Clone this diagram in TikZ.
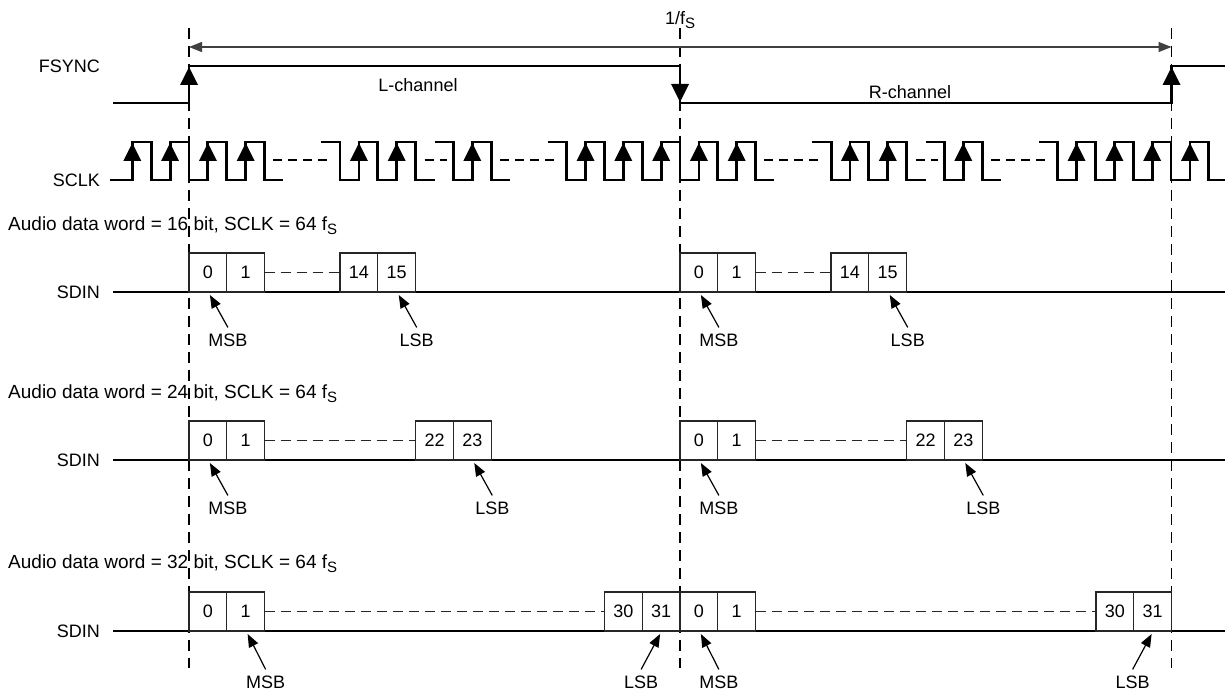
\documentclass[tikz,border=0pt]{standalone}
\usepackage{fontspec}
\setmainfont{Liberation Sans}
\usetikzlibrary{arrows.meta,calc}
\newcommand\fsub{f\raisebox{-4pt}{\fontsize{15}{15}\selectfont S}}
\def\hu{18.885}
\def\pw{37.77}
\newcommand\sclkgrp[3]{%
  \draw[sig] ({189+#1*\hu},142) -- ({189+(#1+1)*\hu},142) -- ({189+(#1+1)*\hu},180)
    foreach \hx in {#2} { -- ({189+\hx*\hu},180) -- ({189+\hx*\hu},142) -- ({189+(\hx+1)*\hu},142) -- ({189+(\hx+1)*\hu},180) } -- (#3,180);
  \foreach \hx in {#2} {\fill ({189+\hx*\hu},143) -- ++(-9,18) -- ++(18,0) -- cycle;}
}
\newcommand\gapdash[2]{\draw[hdash] ({189+#1*\hu-10},160) -- ({189+#2*\hu+12},160);}
\begin{document}
\begin{tikzpicture}[x=1pt,y=-1pt,
  sig/.style={line width=2.8pt, line join=miter},
  vdash/.style={line width=1.2pt, dash pattern=on 11pt off 7pt},
  hdash/.style={line width=1.2pt, dash pattern=on 9pt off 6pt},
  bit/.style={draw=black!85, line width=1.2pt, minimum width=37.77pt, minimum height=39pt,
    inner sep=0pt, outer sep=0pt, anchor=south west, font=\fontsize{18}{18}\selectfont},
  lbl/.style={font=\fontsize{18}{18}\selectfont, inner sep=1pt},
  rowlbl/.style={font=\fontsize{19}{19}\selectfont, inner sep=0pt, anchor=base west},
  ptr/.style={line width=1.2pt, -{Triangle[length=13pt,width=10pt]}},
  dim/.style={line width=1.2pt, draw=black!75, {Triangle[length=13pt,width=10pt]}-{Triangle[length=13pt,width=10pt]}},
  bitdash/.style={line width=1.2pt, draw=black!85, dash pattern=on 10pt off 6pt},
]
\useasboundingbox (0,0) rectangle (1225,692);

% vertical dashed reference lines
\coordinate (vLt) at (189,28);    \coordinate (vLb) at (189,668);
\coordinate (vMt) at (680,28);    \coordinate (vMb) at (680,668);
\coordinate (vRt) at (1171.5,28); \coordinate (vRb) at (1171.5,668);
\draw[vdash] (vLt) -- (vLb);
\draw[vdash] (vMt) -- (vMb);
\draw[vdash] (vRt) -- (vRb);

% period dimension
\coordinate (dL) at (189,47); \coordinate (dR) at (1171.5,47);
\draw[dim] (dL) -- (dR);
\node[lbl] (per) at (680,20) {1/\fsub};

% FSYNC
\node[lbl,anchor=east] (fsync) at (101,66) {FSYNC};
\draw[sig] (113,103) -- (189,103) -- (189,66) -- (680,66) -- (680,103) -- (1171.5,103) -- (1171.5,66) -- (1225,66);
\fill (189,67) -- ++(-9,18) -- ++(18,0) -- cycle;
\fill (680,102) -- ++(-9,-18) -- ++(18,0) -- cycle;
\fill (1171.5,67) -- ++(-9,18) -- ++(18,0) -- cycle;
\node[lbl] (lch) at (418,85) {L-channel};
\node[lbl] (rch) at (910,92) {R-channel};

% SCLK
\node[lbl,anchor=east] (sclk) at (101,180) {SCLK};
\draw[sig] (110,180) foreach \hx in {-3,-1,1,3} { -- ({189+\hx*\hu},180) -- ({189+\hx*\hu},142) -- ({189+(\hx+1)*\hu},142) -- ({189+(\hx+1)*\hu},180) } -- ({189+5*\hu},180);
\foreach \hx in {-3,-1,1,3} {\fill ({189+\hx*\hu},143) -- ++(-9,18) -- ++(18,0) -- cycle;}
\sclkgrp{7}{9,11}{434.5}
\sclkgrp{13}{15}{510}
\sclkgrp{19}{21,23,25,27,29}{774.4}
\sclkgrp{33}{35,37}{925.5}
\sclkgrp{39}{41}{1001}
\sclkgrp{45}{47,49,51,53}{1225}
\gapdash{5}{7}
\gapdash{13}{13}
\gapdash{17}{19}
\gapdash{31}{33}
\gapdash{39}{39}
\gapdash{43}{45}

% ===== Row 1: 16 bit =====
\node[rowlbl] (t1) at (8,231) {Audio data word = 16 bit, SCLK = 64 \fsub};
\node[lbl,anchor=east] (sd1) at (101,292) {SDIN};
\draw[sig] (113,292) -- (1225,292);
\node[bit] (a0) at (189,292) {0};
\node[bit] (a1) at ({189+\pw},292) {1};
\node[bit] (a14) at ({189+4*\pw},292) {14};
\node[bit] (a15) at ({189+5*\pw},292) {15};
\node[bit] (b0) at (680,292) {0};
\node[bit] (b1) at ({680+\pw},292) {1};
\node[bit] (b14) at ({680+4*\pw},292) {14};
\node[bit] (b15) at ({680+5*\pw},292) {15};
\draw[bitdash] (a1.east) -- (a14.west);
\draw[bitdash] (b1.east) -- (b14.west);
\node[lbl] (m1a) at ($(a0.south)+(20,48)$) {MSB};
\node[lbl] (l1a) at ($(a15.south)+(20,48)$) {LSB};
\node[lbl] (m1b) at ($(b0.south)+(20,48)$) {MSB};
\node[lbl] (l1b) at ($(b15.south)+(20,48)$) {LSB};
\draw[ptr] ([yshift=5pt]m1a.north) -- ([xshift=2pt,yshift=-3pt]a0.south);
\draw[ptr] ([yshift=5pt]l1a.north) -- ([xshift=2pt,yshift=-3pt]a15.south);
\draw[ptr] ([yshift=5pt]m1b.north) -- ([xshift=2pt,yshift=-3pt]b0.south);
\draw[ptr] ([yshift=5pt]l1b.north) -- ([xshift=2pt,yshift=-3pt]b15.south);

% ===== Row 2: 24 bit =====
\node[rowlbl] (t2) at (8,398) {Audio data word = 24 bit, SCLK = 64 \fsub};
\node[lbl,anchor=east] (sd2) at (101,460) {SDIN};
\draw[sig] (113,460) -- (1225,460);
\node[bit] (c0) at (189,460) {0};
\node[bit] (c1) at ({189+\pw},460) {1};
\node[bit] (c22) at ({189+6*\pw},460) {22};
\node[bit] (c23) at ({189+7*\pw},460) {23};
\node[bit] (d0) at (680,460) {0};
\node[bit] (d1) at ({680+\pw},460) {1};
\node[bit] (d22) at ({680+6*\pw},460) {22};
\node[bit] (d23) at ({680+7*\pw},460) {23};
\draw[bitdash] (c1.east) -- (c22.west);
\draw[bitdash] (d1.east) -- (d22.west);
\node[lbl] (m2a) at ($(c0.south)+(20,48)$) {MSB};
\node[lbl] (l2a) at ($(c23.south)+(20,48)$) {LSB};
\node[lbl] (m2b) at ($(d0.south)+(20,48)$) {MSB};
\node[lbl] (l2b) at ($(d23.south)+(20,48)$) {LSB};
\draw[ptr] ([yshift=5pt]m2a.north) -- ([xshift=2pt,yshift=-3pt]c0.south);
\draw[ptr] ([yshift=5pt]l2a.north) -- ([xshift=2pt,yshift=-3pt]c23.south);
\draw[ptr] ([yshift=5pt]m2b.north) -- ([xshift=2pt,yshift=-3pt]d0.south);
\draw[ptr] ([yshift=5pt]l2b.north) -- ([xshift=2pt,yshift=-3pt]d23.south);

% ===== Row 3: 32 bit =====
\node[rowlbl] (t3) at (8,568) {Audio data word = 32 bit, SCLK = 64 \fsub};
\node[lbl,anchor=east] (sd3) at (101,631) {SDIN};
\draw[sig] (113,631) -- (1225,631);
\node[bit] (e0) at (189,631) {0};
\node[bit] (e1) at ({189+\pw},631) {1};
\node[bit] (e30) at ({680-2*\pw},631) {30};
\node[bit] (e31) at ({680-\pw},631) {31};
\node[bit] (f0) at (680,631) {0};
\node[bit] (f1) at ({680+\pw},631) {1};
\node[bit] (f30) at ({1171.5-2*\pw},631) {30};
\node[bit] (f31) at ({1171.5-\pw},631) {31};
\draw[bitdash] (e1.east) -- (e30.west);
\draw[bitdash] (f1.east) -- (f30.west);
\node[lbl] (m3a) at ($(e1.south)+(20,51)$) {MSB};
\node[lbl] (l3a) at ($(e31.south)+(-20,51)$) {LSB};
\node[lbl] (m3b) at ($(f0.south)+(20,51)$) {MSB};
\node[lbl] (l3b) at ($(f31.south)+(-20,51)$) {LSB};
\draw[ptr] ([yshift=5pt]m3a.north) -- ([xshift=2pt,yshift=-3pt]e1.south);
\draw[ptr] ([yshift=5pt]l3a.north) -- ([xshift=-1pt,yshift=-3pt]e31.south);
\draw[ptr] ([yshift=5pt]m3b.north) -- ([xshift=2pt,yshift=-3pt]f0.south);
\draw[ptr] ([yshift=5pt]l3b.north) -- ([xshift=-1pt,yshift=-3pt]f31.south);
\end{tikzpicture}
\end{document}
